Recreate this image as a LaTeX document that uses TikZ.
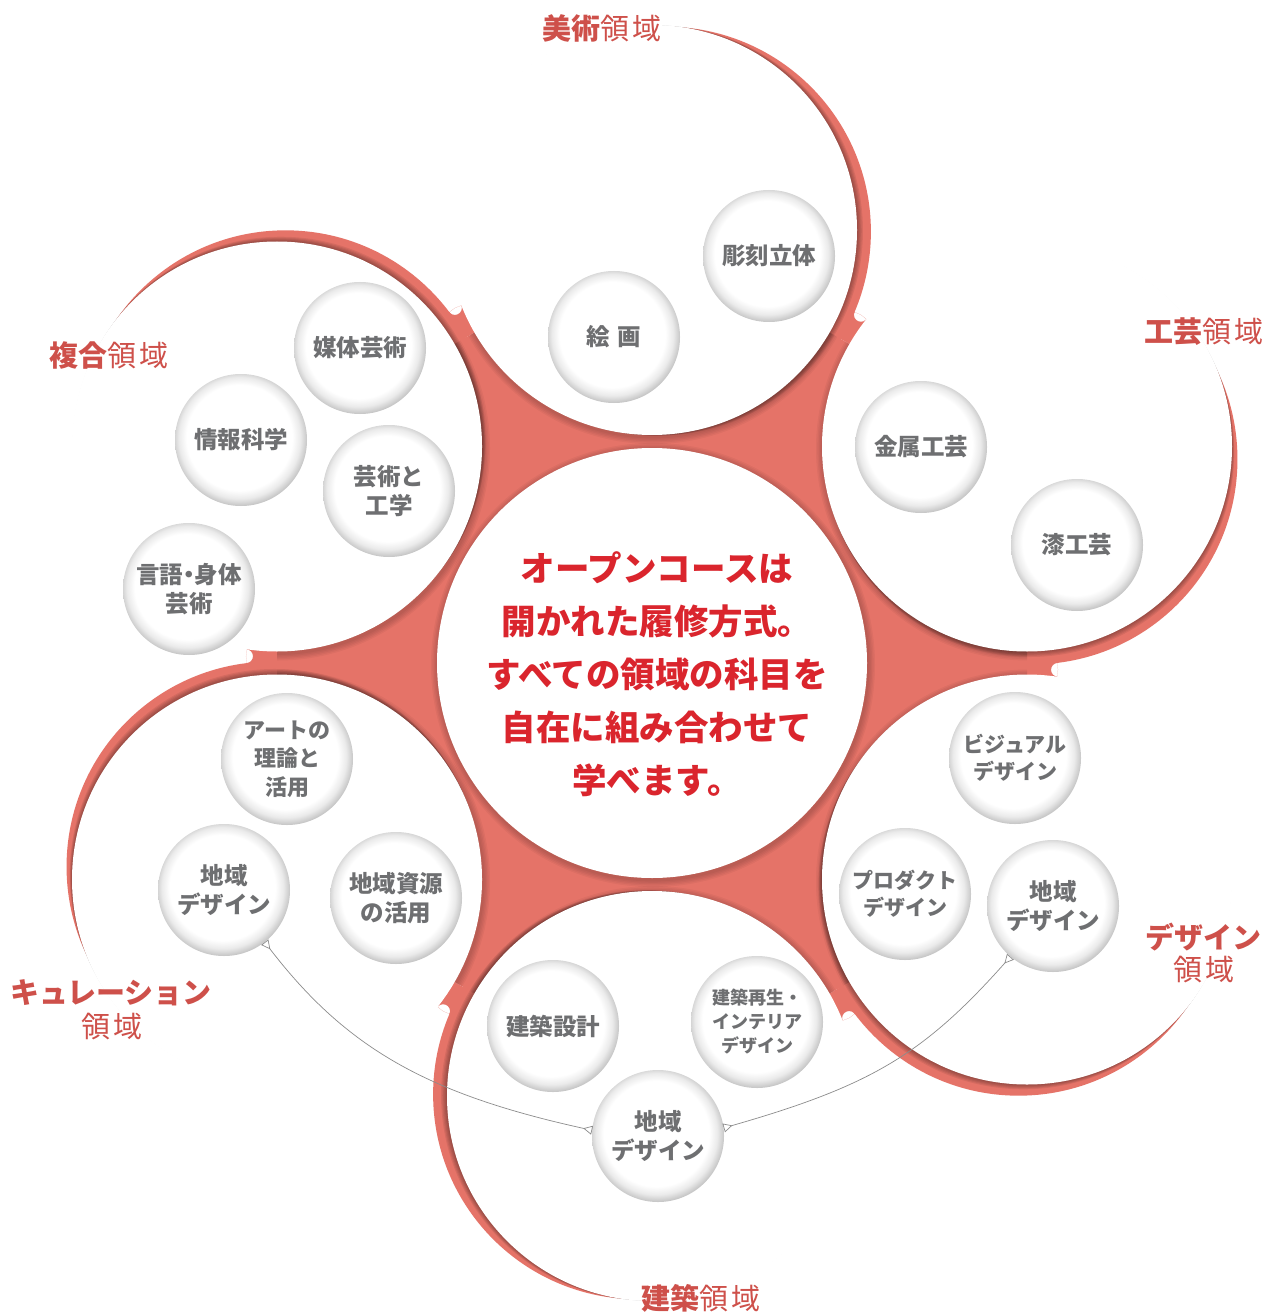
\documentclass[tikz,border=0pt]{standalone}
\usepackage{fontspec}
\setmainfont{Noto Sans CJK JP}
\usetikzlibrary{calc,arrows.meta}
\definecolor{fillred}{RGB}{229,115,104}
\definecolor{labred}{RGB}{206,80,74}
\definecolor{txtred}{RGB}{218,37,45}
\definecolor{txtgray}{RGB}{110,111,113}
\pgfdeclareradialshading{smallring}{\pgfpoint{-1bp}{1.5bp}}{color(0bp)=(white); color(20bp)=(white); color(23bp)=(black!8); color(25.5bp)=(black!22); color(27bp)=(black!30); color(50bp)=(black!30)}
\begin{document}
\begin{tikzpicture}[x=1pt,y=-1pt,
  ball/.style={circle, minimum size=132pt, inner sep=0pt, shade, shading=smallring, text=txtgray, align=center, font=\bfseries\fontsize{23.5}{28.5}\selectfont},
  lab/.style={text=labred, inner sep=0pt, font=\fontsize{29}{35}\selectfont},
  conn/.style={draw=black!45, line width=0.7pt, arrows={Triangle[open,reversed,length=9pt,width=9pt]-Triangle[open,reversed,length=9pt,width=9pt]}}]
\useasboundingbox (0,0) rectangle (1274,1313);
\fill[white] (0,0) rectangle (1274,1313);
\coordinate (O) at (652,663);
\foreach \n/\a in {bi/-90,ko/-30,de/30,ke/90,ku/150,fu/210}{
  \coordinate (\n) at ($(O)+(\a:433)$);
  \coordinate (r\n) at ($(\n)+(\a+97:14)$);
}
% crescents
\foreach \n in {bi,ko,de,ke,ku,fu}{\fill[fillred] (r\n) circle [radius=205];}
% central red area
\fill[fillred] (bi)--(ko)--(de)--(ke)--(ku)--(fu)--cycle;
% fillets between neighbouring circles
\foreach \A/\B in {bi/ko,ko/de,de/ke,ke/ku,ku/fu,fu/bi}{
  \coordinate (M) at ($(r\A)!.5!(\B)$);
  \coordinate (F) at ($(M)!28.3pt!90:(\B)$);
  \begin{scope}
    \clip (\A)--(r\A)--(F)--(\B)--cycle;
    \fill[fillred,even odd rule] (\A)--(r\A)--(F)--(\B)--cycle (F) circle [radius=7];
  \end{scope}
}
% soft shadows on the red
\begin{scope}
  \clip (bi)--(ko)--(de)--(ke)--(ku)--(fu)--cycle;
  \foreach \n in {bi,ko,de,ke,ku,fu}{\foreach \k in {1,...,5}{\fill[black,opacity=.04] ($(\n)+(1,2)$) circle [radius={205+\k*1.4}];}}
  \foreach \k in {1,...,5}{\fill[black,opacity=.04] ($(O)+(1,2)$) circle [radius={215+\k*1.4}];}
\end{scope}
\foreach \n/\a in {bi/-90,ko/-30,de/30,ke/90,ku/150,fu/210}{
  \foreach \k in {1,...,5}{\fill[black,opacity=.07] ($(\n)+(\a+97:\k*1.2)$) circle [radius=205];}
}
% white disks
\foreach \n in {bi,ko,de,ke,ku,fu}{\fill[white] (\n) circle [radius=205];}
\fill[white] (O) circle [radius=215];

% small circles
\node[ball] (kaiga) at (614,337) {絵\hspace{8pt}画};
\node[ball] (chokoku) at (769,256) {彫刻立体};
\node[ball] (kinzoku) at (921,447) {金属工芸};
\node[ball] (shikko) at (1077,545) {漆工芸};
\node[ball] (baitai) at (360,348) {媒体芸術};
\node[ball] (joho) at (241,440) {情報科学};
\node[ball] (geiko) at (389,491) {芸術と\\工学};
\node[ball] (gengo) at (189,589) {言語\kern-6pt・\kern-6pt身体\\芸術};
\node[ball, font=\bfseries\fontsize{22}{28.5}\selectfont] (art) at (287,759) {アートの\\理論と\\活用};
\node[ball] (kuchiki) at (224,890) {地域\\デザイン};
\node[ball] (shigen) at (396,898) {地域資源\\の活用};
\node[ball] (sekkei) at (553,1026) {建築設計};
\node[ball, font=\bfseries\fontsize{18}{24}\selectfont] (saisei) at (757,1022) {建築再生・\\インテリア\\デザイン};
\node[ball] (kechiki) at (658,1136) {地域\\デザイン};
\node[ball, font=\bfseries\fontsize{21}{27}\selectfont] (visual) at (1015,758) {ビジュアル\\デザイン};
\node[ball, font=\bfseries\fontsize{21}{27}\selectfont] (product) at (905,894) {プロダクト\\デザイン};
\node[ball] (dechiki) at (1053,906) {地域\\デザイン};

% connectors
\draw[conn] (kuchiki.-52.6) .. controls (346,1048) and (427,1094) .. (kechiki.175);
\draw[conn] (kechiki.7.5) .. controls (870,1086) and (923,1055) .. (dechiki.230);

% centre text
\node[text=txtred, align=center, inner sep=0pt, font=\bfseries\fontsize{34.5}{53}\selectfont] (ctext) at (657,674) {オープンコースは\\開かれた履修方式。\\すべての領域の科目を\\自在に組み合わせて\\学べます。};

% domain labels
\node[lab] (lbi) at (602,28) {\textbf{美術}領\hspace{3pt}域};
\node[lab] (lko) at (1204,332) {\textbf{工芸}領\hspace{3pt}域};
\node[lab] (lfu) at (109,356) {\textbf{複合}領\hspace{3pt}域};
\node[lab] (lde) at (1203,937) {\textbf{デザイン}};
\node[lab] (lde2) at (1204,970) {領\hspace{3pt}域};
\node[lab] (lku) at (111,993) {\textbf{キュレーション}};
\node[lab] (lku2) at (112,1027) {領\hspace{3pt}域};
\node[lab] (lke) at (701,1298) {\textbf{建築}領\hspace{3pt}域};
\end{tikzpicture}
\end{document}
